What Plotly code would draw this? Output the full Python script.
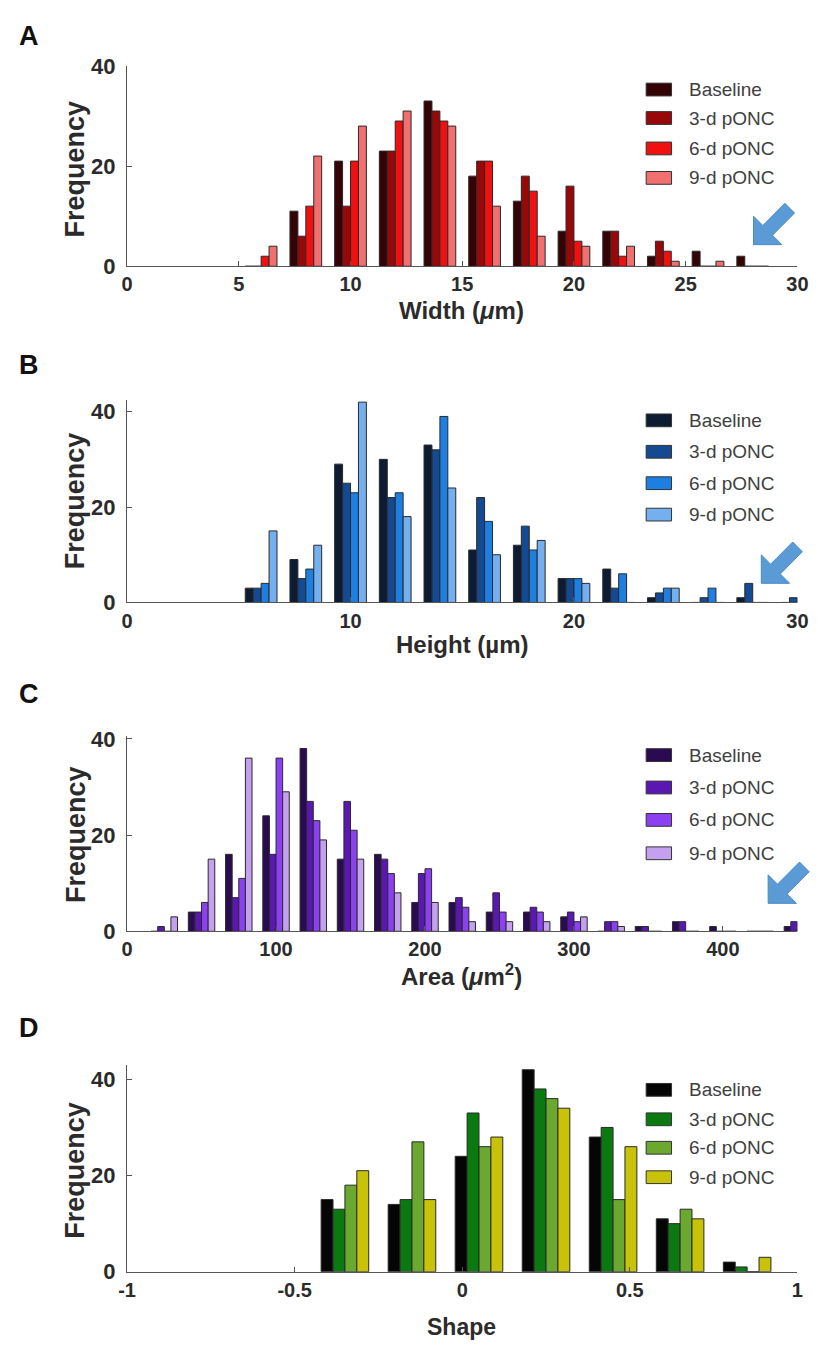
import math
import plotly.graph_objects as go

W, H = 825, 1362

series_names = ["Baseline", "3-d pONC", "6-d pONC", "9-d pONC"]

# Panel A: cell width histogram (bin centres in um)
width_bins = [6, 8, 10, 12, 14, 16, 18, 20, 22, 24, 26, 28]
width_baseline = [0, 11, 21, 23, 33, 18, 13, 7, 7, 2, 3, 2]
width_3d = [0, 6, 12, 23, 31, 21, 18, 16, 7, 5, 0, 0]
width_6d = [2, 12, 21, 29, 29, 21, 15, 5, 2, 3, 0, 0]
width_9d = [4, 22, 28, 31, 28, 12, 6, 4, 4, 1, 1, 0]

# Panel B: cell height histogram
height_bins = [6, 8, 10, 12, 14, 16, 18, 20, 22, 24, 26, 28, 30]
height_baseline = [3, 9, 29, 30, 33, 11, 12, 5, 7, 1, 0, 1, 0]
height_3d = [3, 5, 25, 22, 32, 22, 16, 5, 3, 2, 1, 4, 1]
height_6d = [4, 7, 23, 23, 39, 17, 11, 5, 6, 3, 3, 0, 0]
height_9d = [15, 12, 42, 18, 24, 10, 13, 4, 0, 3, 0, 0, 0]

# Panel C: cell area histogram (um^2)
area_bins = [25, 50, 75, 100, 125, 150, 175, 200, 225, 250, 275, 300,
             325, 350, 375, 400, 425, 450]
area_baseline = [0, 4, 16, 24, 38, 15, 16, 6, 6, 4, 4, 3, 0, 1, 2, 1, 0, 1]
area_3d = [1, 4, 7, 16, 27, 27, 15, 12, 7, 8, 5, 4, 2, 1, 2, 0, 0, 2]
area_6d = [0, 6, 11, 36, 23, 21, 12, 13, 5, 4, 4, 2, 2, 0, 0, 0, 0, 0]
area_9d = [3, 15, 36, 29, 19, 15, 8, 6, 2, 2, 2, 3, 1, 0, 0, 0, 0, 0]

# Panel D: shape index histogram
shape_bins = [-0.35, -0.15, 0.05, 0.25, 0.45, 0.65, 0.85]
shape_baseline = [15, 14, 24, 42, 28, 11, 2]
shape_3d = [13, 15, 33, 38, 30, 10, 1]
shape_6d = [18, 27, 26, 36, 15, 13, 0]
shape_9d = [21, 15, 28, 34, 26, 11, 3]

red_colors = ["#350205", "#990808", "#f01010", "#f07070"]
blue_colors = ["#0d1b33", "#144a92", "#1e7fe3", "#74b0ef"]
purple_colors = ["#2a0b52", "#5b17b2", "#8b40f2", "#c5a0ef"]
green_colors = ["#050505", "#0a7a10", "#6aa830", "#c8c208"]

FONT = "Liberation Sans, Arial, sans-serif"


def px(x):
    return x / W


def py(y):
    return 1 - y / H


# pixel frames of each panel: (top, bottom), y range, x range, ticks
panels = [
    dict(letter="A", bins=width_bins,
         data=[width_baseline, width_3d, width_6d, width_9d],
         colors=red_colors, top=55, bottom=259, yr=[0, 40],
         xr=[0, 30], xt=[0, 5, 10, 15, 20, 25, 30],
         xtt=["0", "5", "10", "15", "20", "25", "30"],
         xtitle="Width (<i>μ</i>m)", xtitle_y=304, xtitle_size=24,
         letter_y=24, freq_y=160, legend_rows=[79, 108, 139, 169],
         arrow_tip=(763, 237)),
    dict(letter="B", bins=height_bins,
         data=[height_baseline, height_3d, height_6d, height_9d],
         colors=blue_colors, top=395, bottom=601.5, yr=[0, 42.5],
         xr=[0, 30], xt=[0, 10, 20, 30], xtt=["0", "10", "20", "30"],
         xtitle="Height (µm)", xtitle_y=644, xtitle_size=24,
         letter_y=360, freq_y=498, legend_rows=[416, 448, 480, 512],
         arrow_tip=(771, 582)),
    dict(letter="C", bins=area_bins,
         data=[area_baseline, area_3d, area_6d, area_9d],
         colors=purple_colors, top=738, bottom=936.5, yr=[0, 40.5],
         xr=[0, 450], xt=[0, 100, 200, 300, 400],
         xtt=["0", "100", "200", "300", "400"],
         xtitle="Area (<i>μ</i>m<sup>2</sup>)", xtitle_y=981, xtitle_size=24,
         letter_y=695, freq_y=838, legend_rows=[757, 790, 823, 857],
         arrow_tip=(778, 908)),
    dict(letter="D", bins=shape_bins,
         data=[shape_baseline, shape_3d, shape_6d, shape_9d],
         colors=green_colors, top=1072.6, bottom=1283.3, yr=[0, 43],
         xr=[-1, 1], xt=[-1, -0.5, 0, 0.5, 1],
         xtt=["-1", "-0.5", "0", "0.5", "1"],
         xtitle="Shape", xtitle_y=1340, xtitle_size=23,
         letter_y=1035, freq_y=1180, legend_rows=[1098, 1128, 1157, 1187],
         arrow_tip=None),
]

fig = go.Figure()
shapes = []
annotations = []

for i, p in enumerate(panels):
    n = "" if i == 0 else str(i + 1)
    xa, ya = "x" + n, "y" + n
    for name, vals, col in zip(series_names, p["data"], p["colors"]):
        fig.add_trace(go.Bar(
            x=p["bins"], y=vals, name=name, xaxis=xa, yaxis=ya,
            marker=dict(color=col, line=dict(color="#2a2a2a", width=1)),
            showlegend=False, hoverinfo="x+y+name"))

    axis_common = dict(showline=True, linecolor="#555555", linewidth=1.3,
                       ticks="inside", ticklen=5, tickwidth=1.2,
                       tickcolor="#555555", showgrid=False, zeroline=False)
    fig.update_layout(**{
        "xaxis" + n: dict(domain=[px(121), px(808)], range=p["xr"],
                          anchor=ya, tickmode="array", tickvals=p["xt"],
                          ticktext=p["xtt"], ticklabelstandoff=0,
                          tickfont=dict(family=FONT, size=20, color="#2b2b2b",
                                        weight="bold"),
                          **axis_common),
        "yaxis" + n: dict(domain=[py(p["bottom"]), py(p["top"])],
                          range=p["yr"], anchor=xa, tickmode="array",
                          tickvals=[0, 20, 40], ticktext=["0", "20", "40"],
                          ticklabelstandoff=6,
                          tickfont=dict(family=FONT, size=22, color="#2b2b2b",
                                        weight="bold"),
                          **axis_common),
    })

    # panel letter
    annotations.append(dict(text="<b>%s</b>" % p["letter"], x=px(21),
                            y=py(p["letter_y"]), xref="paper", yref="paper",
                            showarrow=False, xanchor="center", yanchor="middle",
                            font=dict(family=FONT, size=27, color="#111111")))
    # y title
    annotations.append(dict(text="<b>Frequency</b>", x=px(68),
                            y=py(p["freq_y"]), xref="paper", yref="paper",
                            showarrow=False, textangle=-90, xanchor="center",
                            yanchor="middle",
                            font=dict(family=FONT, size=27, color="#2b2b2b")))
    # x title
    annotations.append(dict(text="<b>%s</b>" % p["xtitle"], x=px(464),
                            y=py(p["xtitle_y"]), xref="paper", yref="paper",
                            showarrow=False, xanchor="center",
                            yanchor="middle",
                            font=dict(family=FONT, size=p["xtitle_size"],
                                      color="#2b2b2b")))

    # legend box entries
    for name, col, ry in zip(series_names, p["colors"], p["legend_rows"]):
        shapes.append(dict(type="rect", xref="paper", yref="paper",
                           x0=px(653), x1=px(679), y0=py(ry + 6.5),
                           y1=py(ry - 6.5), fillcolor=col,
                           line=dict(color="#333333", width=1)))
        annotations.append(dict(text=name, x=px(695), y=py(ry),
                                xref="paper", yref="paper", showarrow=False,
                                xanchor="left", yanchor="middle",
                                font=dict(family=FONT, size=19,
                                          color="#404040")))

    # blue pointer arrow towards the tail of the distribution
    if p["arrow_tip"] is not None:
        tx, ty = p["arrow_tip"]
        head = 29.0
        d = (1 / math.sqrt(2), -1 / math.sqrt(2))
        nrm = (1 / math.sqrt(2), 1 / math.sqrt(2))
        bx, by = tx + head / 2, ty - head / 2
        half_shaft, shaft_len = 7.0, 32.0
        ex, ey = bx + shaft_len * d[0], by + shaft_len * d[1]
        pts = [
            (tx, ty),
            (tx + head, ty),
            (bx + half_shaft * nrm[0], by + half_shaft * nrm[1]),
            (ex + half_shaft * nrm[0], ey + half_shaft * nrm[1]),
            (ex - half_shaft * nrm[0], ey - half_shaft * nrm[1]),
            (bx - half_shaft * nrm[0], by - half_shaft * nrm[1]),
            (tx, ty - head),
        ]
        path = "M " + " L ".join("%.5f,%.5f" % (px(a), py(b)) for a, b in pts) + " Z"
        shapes.append(dict(type="path", xref="paper", yref="paper", path=path,
                           fillcolor="#5b9bd5", line=dict(color="#4a8ac8",
                                                           width=1)))

fig.update_layout(
    width=W, height=H,
    margin=dict(l=0, r=0, t=0, b=0),
    paper_bgcolor="white", plot_bgcolor="white",
    barmode="group", bargap=0.29, bargroupgap=0.0,
    showlegend=False,
    shapes=shapes, annotations=annotations,
    font=dict(family=FONT),
)

fig.write_html("out.html")
